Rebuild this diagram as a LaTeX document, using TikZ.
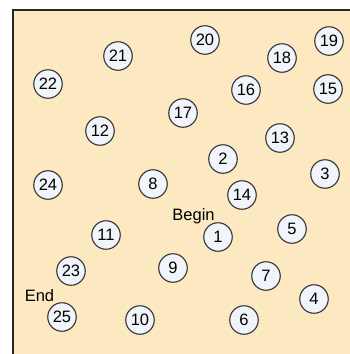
\documentclass[tikz,border=0pt]{standalone}
\usepackage{fontspec}
\setmainfont{Liberation Sans}
\usepackage{xcolor}
\usetikzlibrary{positioning}
\definecolor{sandfill}{RGB}{252,233,194}
\definecolor{ballfill}{RGB}{241,244,250}
\definecolor{ballline}{RGB}{50,50,50}

\begin{document}
\begin{tikzpicture}[x=1pt, y=-1pt,
    ball/.style={draw=ballline, line width=1.1pt, circle, fill=ballfill, minimum size=28.5pt, inner sep=0pt, font=\fontsize{16.5}{18}\selectfont},
    tag/.style={inner sep=0pt, font=\fontsize{16.5}{18}\selectfont}]
  \useasboundingbox (0,0) rectangle (350,354);
  \fill[white] (0,0) rectangle (350,354);
  \fill[sandfill] (13,10) rectangle (350,354);
  \draw[line width=1.6pt, black!85] (13,354) -- (13,10) -- (350,10);
  % numbered points
  \node[ball] (n1) at (218,237) {1};
  \node[ball] (n2) at (223,159) {2};
  \node[ball] (n3) at (325,174) {3};
  \node[ball] (n4) at (314,299) {4};
  \node[ball] (n5) at (292,229) {5};
  \node[ball] (n6) at (244,320) {6};
  \node[ball] (n7) at (266,276) {7};
  \node[ball] (n8) at (153,184) {8};
  \node[ball] (n9) at (173,268) {9};
  \node[ball] (n10) at (140,320) {10};
  \node[ball] (n11) at (106,235) {11};
  \node[ball] (n12) at (100,131) {12};
  \node[ball] (n13) at (280,138) {13};
  \node[ball] (n14) at (242,195) {14};
  \node[ball] (n15) at (328,89) {15};
  \node[ball] (n16) at (246,90) {16};
  \node[ball] (n17) at (183,113) {17};
  \node[ball] (n18) at (282,58) {18};
  \node[ball] (n19) at (329,41) {19};
  \node[ball] (n20) at (205,40) {20};
  \node[ball] (n21) at (118,56) {21};
  \node[ball] (n22) at (48,84) {22};
  \node[ball] (n23) at (71,271) {23};
  \node[ball] (n24) at (48,185) {24};
  \node[ball] (n25) at (62,317) {25};
  % start and finish labels
  \node[tag] (lblbegin) at (193.5,216) {Begin};
  \node[tag] (lblend) at (39.5,296) {End};
\end{tikzpicture}
\end{document}
